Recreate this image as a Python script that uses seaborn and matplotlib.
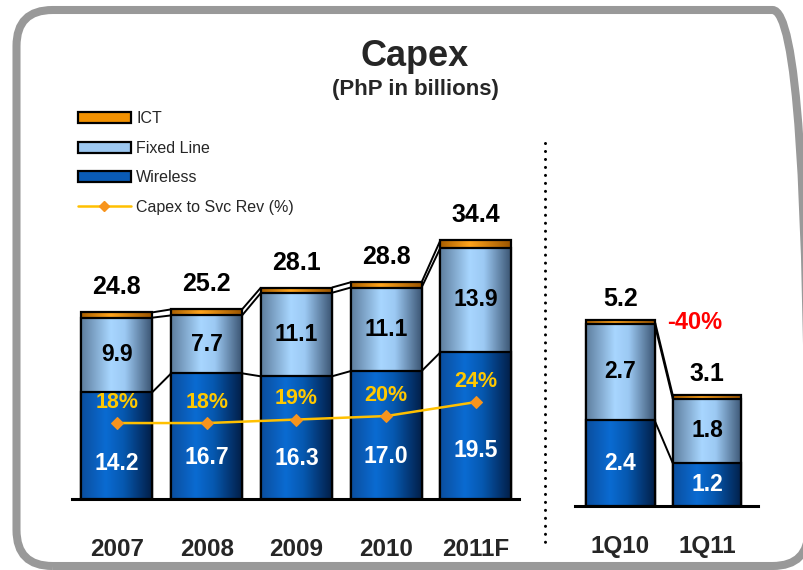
import numpy as np
import matplotlib
matplotlib.use("Agg")
import matplotlib.pyplot as plt
import seaborn as sns
from matplotlib.colors import LinearSegmentedColormap
from matplotlib.patches import Patch, FancyBboxPatch
from matplotlib.lines import Line2D
from matplotlib.transforms import IdentityTransform

# ---------------- data ----------------
years = ['2007', '2008', '2009', '2010', '2011F']
wireless = [14.2, 16.7, 16.3, 17.0, 19.5]
fixed_line = [9.9, 7.7, 11.1, 11.1, 13.9]
ict = [0.7, 0.8, 0.7, 0.7, 1.0]
totals = [24.8, 25.2, 28.1, 28.8, 34.4]
capex_to_svc_rev = [18, 18, 19, 20, 24]

quarters = ['1Q10', '1Q11']
q_wireless = [2.4, 1.2]
q_fixed_line = [2.7, 1.8]
q_ict = [0.1, 0.1]
q_totals = [5.2, 3.1]
q_change = '-40%'

series_names = ['ICT', 'Fixed Line', 'Wireless', 'Capex to Svc Rev (%)']

# ---------------- style ----------------
sns.set_style('white')
plt.rcParams['font.family'] = ['Liberation Sans', 'DejaVu Sans']

W, H = 804, 570
fig = plt.figure(figsize=(W / 100, H / 100), dpi=100)
fig.patch.set_facecolor('white')

cm_wireless = LinearSegmentedColormap.from_list(
    'w', [(0, '#0B4E9E'), (0.35, '#0A6BD2'), (0.6, '#0658B0'), (1, '#021F48')])
cm_fixed = LinearSegmentedColormap.from_list(
    'f', [(0, '#5E7E9E'), (0.42, '#A8D6FF'), (0.62, '#9CC9F3'), (1, '#3B5573')])
cm_ict = LinearSegmentedColormap.from_list(
    'i', [(0, '#A85E00'), (0.42, '#FFA41C'), (1, '#9A5400')])
grad = np.linspace(0, 1, 256).reshape(1, -1)


def px_axes(x0, x1, ybase, ytop):
    return fig.add_axes([x0 / W, (H - ybase) / H, (x1 - x0) / W, (ybase - ytop) / H])


def draw_stack(ax, cats, wl, fx, ic, width):
    lvl1 = list(wl)
    lvl2 = [a + b for a, b in zip(wl, fx)]
    lvl3 = [a + b + c for a, b, c in zip(wl, fx, ic)]
    for z, (vals, cmap) in zip([2, 4, 6], [(lvl3, cm_ict), (lvl2, cm_fixed), (lvl1, cm_wireless)]):
        n0 = len(ax.patches)
        sns.barplot(x=cats, y=vals, color='white', width=width, edgecolor='black',
                    linewidth=1.6, errorbar=None, ax=ax, zorder=z + 1)
        for p in ax.patches[n0:]:
            p.set_facecolor('none')
            x, w, h = p.get_x(), p.get_width(), p.get_height()
            ax.imshow(grad, extent=[x, x + w, 0, h], aspect='auto', cmap=cmap,
                      zorder=z, interpolation='bicubic')
    # connector lines between adjacent bars
    for lev in (lvl1, lvl2, lvl3):
        for i in range(len(cats) - 1):
            ax.plot([i + width / 2, i + 1 - width / 2], [lev[i], lev[i + 1]],
                    color='black', lw=1.4, zorder=8, solid_capstyle='butt')
    return lvl1, lvl2, lvl3


def style_axis(ax, cats, pad):
    for s in ['left', 'right', 'top']:
        ax.spines[s].set_visible(False)
    ax.spines['bottom'].set_linewidth(2.2)
    ax.spines['bottom'].set_color('black')
    ax.set_yticks([])
    ax.set_ylabel('')
    ax.set_xlabel('')
    ax.set_xticks(range(len(cats)))
    ax.set_xticklabels(cats, fontsize=17.5, fontweight='bold')
    ax.tick_params(axis='x', length=0, pad=pad)
    ax.set_facecolor('none')


# ---------------- left panel ----------------
bw = 0.79
ax = px_axes(72, 519, 499, 198)
l1, l2, l3 = draw_stack(ax, years, wireless, fixed_line, ict, bw)
ax.set_xlim(-0.5, 4.48)
ax.set_ylim(0, 40)
style_axis(ax, years, 28)

for i in range(len(years)):
    ax.annotate(f'{totals[i]:.1f}', (i, totals[i]), xytext=(0, 18), textcoords='offset points',
                ha='center', va='center', fontsize=18, fontweight='bold', color='black', zorder=10)
    ax.text(i, wireless[i] * 0.33, f'{wireless[i]:.1f}', ha='center', va='center',
            fontsize=16.5, fontweight='bold', color='white', zorder=10)
    ax.text(i, wireless[i] + fixed_line[i] / 2, f'{fixed_line[i]:.1f}', ha='center', va='center',
            fontsize=16.5, fontweight='bold', color='black', zorder=10)

ax2 = ax.twinx()
ax2.set_position(ax.get_position())
sns.lineplot(x=years, y=capex_to_svc_rev, ax=ax2, color='#FFC000', lw=1.8, marker='D',
             markersize=6, markerfacecolor='#F7941D', markeredgecolor='#F7941D', sort=False)
ax2.set_ylim(-3.7, 82.3)
ax2.set_xlim(-0.5, 4.48)
for s in ax2.spines.values():
    s.set_visible(False)
ax2.set_yticks([])
ax2.set_ylabel('')
for i, p in enumerate(capex_to_svc_rev):
    ax2.annotate(f'{p}%', (i, p), xytext=(0, 15), textcoords='offset points', ha='center',
                 va='center', fontsize=15.5, fontweight='bold', color='#FFC800')

# ---------------- right panel ----------------
axr = px_axes(575, 757.5, 506, 220)
draw_stack(axr, quarters, q_wireless, q_fixed_line, q_ict, bw)
axr.set_xlim(-0.52, 1.58)
axr.set_ylim(0, 8)
style_axis(axr, quarters, 21)
for i in range(len(quarters)):
    axr.annotate(f'{q_totals[i]:.1f}', (i, q_totals[i]), xytext=(0, 15), textcoords='offset points',
                 ha='center', va='center', fontsize=18, fontweight='bold', color='black', zorder=10)
    axr.text(i, q_wireless[i] / 2, f'{q_wireless[i]:.1f}', ha='center', va='center',
             fontsize=16.5, fontweight='bold', color='white', zorder=10)
    axr.text(i, q_wireless[i] + q_fixed_line[i] / 2, f'{q_fixed_line[i]:.1f}', ha='center',
             va='center', fontsize=16.5, fontweight='bold', color='black', zorder=10)
axr.text(0.657, 0.64, q_change, transform=axr.transAxes, ha='center', va='center',
         fontsize=17, fontweight='bold', color='#FF0000')

# ---------------- titles ----------------
fig.text(415 / W, 1 - 66 / H, 'Capex', ha='center', va='baseline', fontsize=26, fontweight='bold')
fig.text(415 / W, 1 - 95 / H, '(PhP in billions)', ha='center', va='baseline', fontsize=16,
         fontweight='bold')

# ---------------- legend ----------------
handles = [
    Patch(facecolor='#F29100', edgecolor='black', linewidth=1.6),
    Patch(facecolor='#9CC7F0', edgecolor='black', linewidth=1.6),
    Patch(facecolor='#0A5BB5', edgecolor='black', linewidth=1.6),
    Line2D([], [], color='#FFC000', lw=1.8, marker='D', markersize=5,
           markerfacecolor='#F7941D', markeredgecolor='#F7941D'),
]
fig.legend(handles=handles, labels=series_names, loc='upper left',
           bbox_to_anchor=(78 / W, 1 - 111 / H), bbox_transform=fig.transFigure,
           frameon=False, fontsize=11.5, handlelength=3.3, handleheight=0.7,
           handletextpad=0.35, labelspacing=0.92, borderpad=0, borderaxespad=0)

# ---------------- separator & frame ----------------
fig.add_artist(Line2D([545 / W, 545 / W], [1 - 143 / H, 1 - 545 / H], transform=fig.transFigure,
                      color='black', lw=2.2, linestyle=(0, (0.01, 2.6)), dash_capstyle='round'))
fig.add_artist(FancyBboxPatch((16.5, 4), 792, 556, boxstyle='round,pad=0,rounding_size=36',
                              transform=IdentityTransform(), fill=False, edgecolor='#999999',
                              linewidth=5.8))

fig.savefig('out.png', dpi=100, facecolor='white')
